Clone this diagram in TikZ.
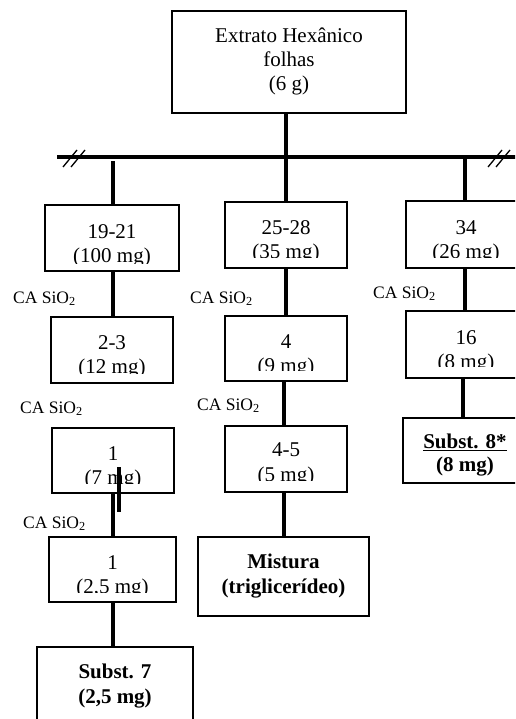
\documentclass[tikz,border=0pt]{standalone}
\usepackage{fontspec}
\setmainfont{Liberation Serif}
\begin{document}
\begin{tikzpicture}[x=1pt,y=-1pt]
\tikzset{
  box/.style={draw, line width=1.9pt, inner sep=0pt, outer sep=0pt},
  conn/.style={line width=3.4pt},
  txt/.style={font=\fontsize{21}{25}\selectfont, inner sep=0pt, anchor=base},
  btxt/.style={font=\fontsize{21}{25}\selectfont\bfseries, inner sep=0pt, anchor=base},
  lbl/.style={font=\fontsize{17.5}{20}\selectfont, inner sep=0pt, anchor=base west},
  slash/.style={line width=1.3pt}
}
\useasboundingbox (0,0) rectangle (515,719);
\clip (0,0) rectangle (515,719);

% boxes
\node[box, minimum width=234pt, minimum height=102pt] (top) at (289,62) {};
\node[box, minimum width=134pt, minimum height=66pt] (b1) at (112,238) {};
\node[box, minimum width=122pt, minimum height=66pt] (b2) at (112,350) {};
\node[box, minimum width=122pt, minimum height=65pt] (b3) at (113,460.5) {};
\node[box, minimum width=127pt, minimum height=65pt] (b4) at (112.5,569.5) {};
\node[box, minimum width=156pt, minimum height=98pt] (b5) at (115,696) {};
\node[box, minimum width=122pt, minimum height=66pt] (m1) at (286,235) {};
\node[box, minimum width=122pt, minimum height=65pt] (m2) at (286,348.5) {};
\node[box, minimum width=122pt, minimum height=66pt] (m3) at (286,459) {};
\node[box, minimum width=171pt, minimum height=79pt] (m4) at (283.5,576.5) {};
\node[box, minimum width=120pt, minimum height=67pt] (r1) at (466,234.5) {};
\node[box, minimum width=120pt, minimum height=67pt] (r2) at (466,344.5) {};
\node[box, minimum width=124pt, minimum height=65pt] (r3) at (465,450.5) {};

% box texts
\node[txt] (topa) at (289,43) {Extrato Hexânico};
\node[txt] (topb) at (289,67) {folhas};
\node[txt] (topc) at (289,91) {(6 g)};

\node[txt] (b1a) at (112,238) {19-21};
\begin{scope}\clip (45,205) rectangle (179,263);
\node[txt] (b1b) at (112,262.5) {(100 mg)};\end{scope}
\node[txt] (b2a) at (112,349) {2-3};
\begin{scope}\clip (51,317) rectangle (173,373);
\node[txt] (b2b) at (112,373) {(12 mg)};\end{scope}
\node[txt] (b3a) at (113,460) {1};
\begin{scope}\clip (52,428) rectangle (174,483.5);
\node[txt] (b3b) at (113,484) {(7 mg)};\end{scope}
\node[txt] (b4a) at (112.5,569) {1};
\begin{scope}\clip (49,537) rectangle (176,592);
\node[txt] (b4b) at (112.5,593) {(2,5 mg)};\end{scope}
\node[btxt] (b5a) at (115,678) {Subst. 7};
\node[btxt] (b5b) at (115,703) {(2,5 mg)};

\node[txt] (m1a) at (286,234) {25-28};
\begin{scope}\clip (225,202) rectangle (347,257);
\node[txt] (m1b) at (286,258) {(35 mg)};\end{scope}
\node[txt] (m2a) at (286,348) {4};
\begin{scope}\clip (225,316) rectangle (347,370);
\node[txt] (m2b) at (286,372) {(9 mg)};\end{scope}
\node[txt] (m3a) at (286,456.5) {4-5};
\begin{scope}\clip (225,426) rectangle (347,480);
\node[txt] (m3b) at (286,481) {(5 mg)};\end{scope}
\node[btxt] (m4a) at (283.5,568) {Mistura};
\node[btxt] (m4b) at (283.5,593) {(triglicerídeo)};

\node[txt] (r1a) at (466,234) {34};
\begin{scope}\clip (406,201) rectangle (526,257);
\node[txt] (r1b) at (466,258) {(26 mg)};\end{scope}
\node[txt] (r2a) at (466,344) {16};
\begin{scope}\clip (406,311) rectangle (526,366);
\node[txt] (r2b) at (466,368) {(8 mg)};\end{scope}
\node[btxt] (r3a) at (465,448) {\underline{Subst. 8*}};
\node[btxt] (r3b) at (465,471) {(8 mg)};

% labels
\node[lbl] (l1) at (13,303) {CA SiO\textsubscript{2}};
\node[lbl] (l2) at (190,303) {CA SiO\textsubscript{2}};
\node[lbl] (l3) at (373,298) {CA SiO\textsubscript{2}};
\node[lbl] (l4) at (20,413) {CA SiO\textsubscript{2}};
\node[lbl] (l5) at (197,410) {CA SiO\textsubscript{2}};
\node[lbl] (l6) at (23,528) {CA SiO\textsubscript{2}};

% main bar with break marks
\coordinate (barL) at (57,157);
\coordinate (barR) at (520,157);
\draw[conn] (barL) -- (barR);
\draw[slash] (63,167) -- (77,150) (71,167) -- (85,150);
\draw[slash] (488,167) -- (502,150) (496,167) -- (510,150);

% drops from the bar
\coordinate (dropL) at (113,161.5);
\coordinate (dropR) at (465,157);
\draw[conn] (dropL) -- (dropL |- b1.north);
\draw[conn] ([xshift=-3pt]top.south) -- (m1.north);
\draw[conn] (dropR) -- (dropR |- r1.north);

% left column
\draw[conn] ([xshift=1pt]b1.south) -- ([xshift=1pt]b2.north);
\draw[conn] (b3.south) -- (b3.south |- b4.north);
\coordinate (extraT) at (119,467);
\coordinate (extraB) at (119,512);
\draw[conn] (extraT) -- (extraB);
\draw[conn] ([xshift=0.5pt]b4.south) -- ([xshift=0.5pt]b4.south |- b5.north);

% middle column
\draw[conn] (m1.south) -- (m2.north);
\draw[conn] ([xshift=-2pt]m2.south) -- ([xshift=-2pt]m3.north);
\draw[conn] ([xshift=-2pt]m3.south) -- ([xshift=-2pt]m3.south |- m4.north);

% right column
\draw[conn] ([xshift=-1pt]r1.south) -- ([xshift=-1pt]r2.north);
\draw[conn] ([xshift=-3pt]r2.south) -- ([xshift=-2pt]r3.north);
\end{tikzpicture}
\end{document}
